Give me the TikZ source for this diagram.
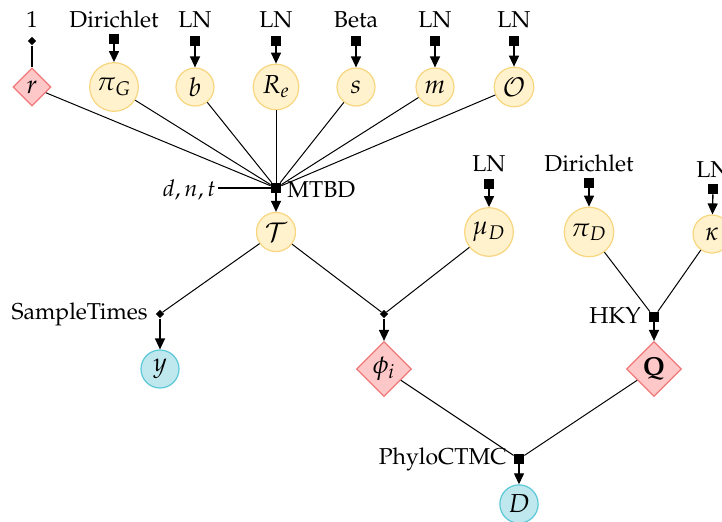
\documentclass[tikz,border=0pt]{standalone}
\usepackage[T1]{fontenc}
\usepackage{mathpazo}
\usetikzlibrary{shapes.geometric,arrows.meta}
\definecolor{yfill}{RGB}{255,242,204}
\definecolor{ydraw}{RGB}{248,214,128}
\definecolor{pfill}{RGB}{255,200,200}
\definecolor{pdraw}{RGB}{240,120,120}
\definecolor{cfill}{RGB}{190,232,238}
\definecolor{cdraw}{RGB}{90,200,215}
\begin{document}
\begin{tikzpicture}[x=0.5pt,y=-0.5pt,font=\fontsize{11.5}{13.5}\selectfont,
  varfont/.style={font=\fontsize{13}{15}\selectfont},
  latent/.style={circle,varfont,fill=yfill,draw=ydraw,line width=0.6pt,minimum size=19pt,inner sep=1.8pt},
  observed/.style={circle,varfont,fill=cfill,draw=cdraw,line width=0.6pt,minimum size=19pt,inner sep=1.8pt},
  determ/.style={diamond,varfont,fill=pfill,draw=pdraw,line width=0.6pt,minimum size=19pt,inner sep=0pt},
  bigdeterm/.style={determ,minimum size=27.5pt},
  factorbox/.style={rectangle,fill=black,minimum size=5pt,inner sep=0pt},
  detdot/.style={diamond,fill=black,minimum size=4.2pt,inner sep=0pt},
  lbl/.style={anchor=base,inner sep=0pt},
  edge/.style={line width=0.5pt},
  arr/.style={line width=0.7pt,-{Triangle[length=5.5pt,width=5pt]}},
]
\useasboundingbox (0,0) rectangle (722,521);

% top row labels
\node[lbl] (l1) at (32,27) {1};
\node[lbl] (lpiG) at (114,27) {Dirichlet};
\node[lbl] (lb) at (195,27) {LN};
\node[lbl] (lRe) at (276,27) {LN};
\node[lbl] (ls) at (356,27) {Beta};
\node[lbl] (lm) at (435,27) {LN};
\node[lbl] (lO) at (514,27) {LN};

% top row factors
\node[detdot] (fr) at (32,41) {};
\node[factorbox] (fpiG) at (114,39) {};
\node[factorbox] (fb) at (195,41) {};
\node[factorbox] (fRe) at (276,41) {};
\node[factorbox] (fs) at (356,41) {};
\node[factorbox] (fm) at (435,41) {};
\node[factorbox] (fO) at (514,41) {};

% top row variables
\node[determ] (r) at (32,87) {$r$};
\node[latent] (piG) at (114,87) {$\pi_G$};
\node[latent] (b) at (195,87) {$b$};
\node[latent] (Re) at (276,87) {$R_e$};
\node[latent] (s) at (356,87) {$s$};
\node[latent] (m) at (435,87) {$m$};
\node[latent] (O) at (514,87) {$\mathcal{O}$};

\draw[line width=0.7pt] (fr) -- (r);
\foreach \v in {piG,b,Re,s,m,O} { \draw[arr] (f\v) -- (\v); }

% MTBD
\node[factorbox] (mtbd) at (276,188) {};
\node[anchor=base west,inner sep=0pt] (lmtbd) at (287,197) {MTBD};
\node[anchor=base east,inner sep=1pt] (dnt) at (218,196) {$d,n,t$};
\foreach \v in {r,piG,b,Re,s,m,O} { \draw[edge] (\v) -- (mtbd); }
\draw[line width=0.6pt] (dnt.east |- mtbd.west) -- (mtbd.west);

\node[latent] (T) at (276,232) {$\mathcal{T}$};
\draw[arr] (mtbd) -- (T);

% sample times
\node[detdot] (st) at (160,314) {};
\node[anchor=base east,inner sep=0pt] (lst) at (148,319) {SampleTimes};
\node[observed] (y) at (160,369) {$y$};
\draw[edge] (T) -- (st);
\draw[arr] (st) -- (y);

% mu_D
\node[lbl] (lmuD) at (489,171) {LN};
\node[factorbox] (fmuD) at (489,184) {};
\node[latent] (muD) at (489,232) {$\mu_D$};
\draw[arr] (fmuD) -- (muD);

\node[detdot] (phd) at (384,314) {};
\node[bigdeterm] (phi) at (384,369) {$\phi_i$};
\draw[edge] (T) -- (phd);
\draw[edge] (muD) -- (phd);
\draw[arr] (phd) -- (phi);

% HKY
\node[lbl] (lpiD) at (589,171) {Dirichlet};
\node[factorbox] (fpiD) at (589,183) {};
\node[latent] (piD) at (589,232) {$\pi_D$};
\draw[arr] (fpiD) -- (piD);

\node[lbl] (lkap) at (713,177) {LN};
\node[factorbox] (fkap) at (713,189) {};
\node[latent] (kap) at (712,234) {$\kappa$};
\draw[arr] (fkap) -- (kap);

\node[factorbox] (hky) at (654,317) {};
\node[anchor=base east,inner sep=0pt] (lhky) at (641,323) {HKY};
\draw[edge] (piD) -- (hky);
\draw[edge] (kap) -- (hky);
\node[bigdeterm] (Q) at (654,369) {$\mathbf{Q}$};
\draw[arr] (hky) -- (Q);

% PhyloCTMC
\node[factorbox] (ctmc) at (519,459) {};
\node[anchor=base east,inner sep=0pt] (lctmc) at (507,464) {PhyloCTMC};
\draw[edge] (phi) -- (ctmc);
\draw[edge] (Q) -- (ctmc);
\node[observed] (D) at (519,504) {$D$};
\draw[arr] (ctmc) -- (D);
\end{tikzpicture}
\end{document}
